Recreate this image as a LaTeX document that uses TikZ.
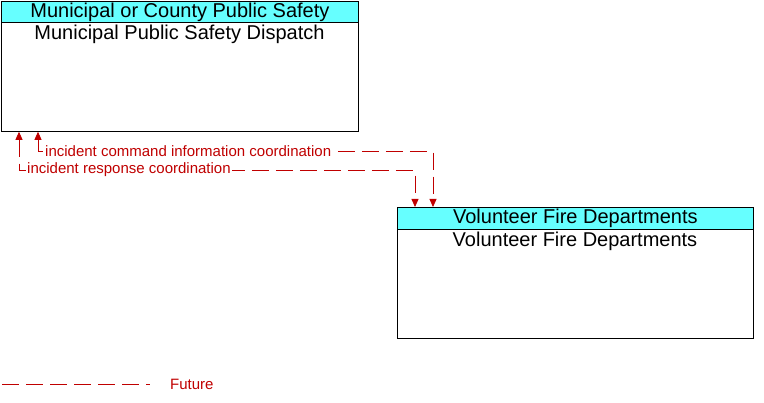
\documentclass[tikz,border=0pt]{standalone}
\usepackage{fontspec}
\setmainfont{Liberation Sans}
\usepackage{tikz}
\usetikzlibrary{arrows.meta,positioning}
\definecolor{flowred}{RGB}{192,0,0}
\definecolor{hdrcyan}{RGB}{102,255,255}
\tikzset{
  ent/.style={rectangle, draw=black, line width=0.8pt, anchor=north west, inner sep=0pt},
  hdr/.style={rectangle, draw=black, line width=0.8pt, fill=hdrcyan, anchor=north west,
              inner sep=0pt, font=\fontsize{20}{20}\selectfont},
  bodytxt/.style={inner sep=0pt, font=\fontsize{20}{20}\selectfont},
  flowarr/.style={draw=flowred, line width=0.8pt, dash pattern=on 17pt off 7pt,
                  {Triangle[length=8pt,width=7pt]}-{Triangle[length=8pt,width=7pt]}},
  flowlbl/.style={text=flowred, fill=white, anchor=west, inner sep=1pt,
                  font=\fontsize{15}{15}\selectfont},
}
\begin{document}
\begin{tikzpicture}[x=1pt, y=-1pt]
    \useasboundingbox (0,0) rectangle (764,403);
    % Municipal or County Public Safety
    \node[ent, minimum width=357pt, minimum height=130pt] (mpsd) at (1,1) {};
    \node[hdr, minimum width=357pt, minimum height=21pt] (mpsdhdr) at (1,1) {Municipal or County Public Safety};
    \node[bodytxt] (mpsdtxt) at (179.5,34) {Municipal Public Safety Dispatch};
    % Volunteer Fire Departments
    \node[ent, minimum width=356pt, minimum height=131pt] (vfd) at (397,207) {};
    \node[hdr, minimum width=356pt, minimum height=22pt] (vfdhdr) at (397,207) {Volunteer Fire Departments};
    \node[bodytxt] (vfdtxt) at (575,241) {Volunteer Fire Departments};
    % flows
    \draw[flowarr] ([xshift=37pt]mpsd.south west) -- ++(0,20) -| ([xshift=36pt]vfd.north west);
    \node[flowlbl] (cmdlbl) at (44,151) {incident command information coordination};
    \draw[flowarr] ([xshift=18pt]mpsd.south west) -- ++(0,39) -| ([xshift=18pt]vfd.north west);
    \node[flowlbl] (resplbl) at (26,170) {incident response coordination};
    % legend
    \coordinate (legA) at (2,384);
    \coordinate (legB) at (150,384);
    \draw[draw=flowred, line width=0.8pt, dash pattern=on 17pt off 7pt] (legA) -- (legB);
    \node[flowlbl, fill=none] (legtxt) at (169,384) {Future};
\end{tikzpicture}
\end{document}
